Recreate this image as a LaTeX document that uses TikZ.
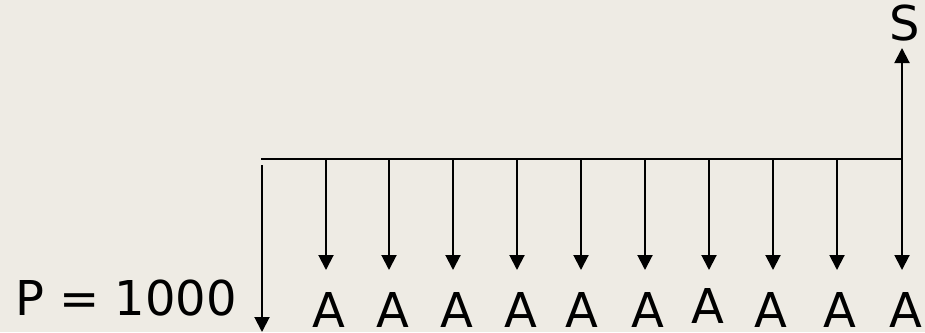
\documentclass[tikz,border=0pt]{standalone}
\usepackage{fontspec}
\setmainfont{DejaVu Sans}
\usetikzlibrary{arrows.meta}
\definecolor{bgc}{HTML}{EEEBE4}
\tikzset{
  flow/.style={line width=2pt,-{Triangle[width=15pt,length=15pt]}},
  base/.style={line width=2pt},
  lbl/.style={font=\fontsize{48}{48}\selectfont,inner sep=0pt,anchor=base}
}
\begin{document}
\begin{tikzpicture}[x=1pt,y=-1pt]
\fill[bgc] (0,0) rectangle (925,332);
\useasboundingbox (0,0) rectangle (925,332);
% time line
\coordinate (L) at (261,159);
\coordinate (R) at (902,159);
\draw[base] (L) -- (R);
% present value arrow
\coordinate (Ptop) at (262,165);
\coordinate (Pbot) at (262,332);
\draw[flow] (Ptop) -- (Pbot);
\node[lbl,anchor=base west] (P) at (15,315) {P = 1000};
% annuity arrows
\foreach \i/\x in {1/326,2/389,3/453,4/517,5/581,6/645,7/709,8/773,9/837,10/902}{
  \coordinate (t\i) at (\x,159);
  \coordinate (b\i) at (\x,270);
  \draw[flow] (t\i) -- (b\i);
}
\foreach \i/\x in {1/329,2/393,3/457,4/521,5/582,6/648,8/771,9/840,10/906}{
  \node[lbl] (A\i) at (\x,327) {A};
}
\node[lbl] (A7) at (708,323) {A};
% future value arrow
\coordinate (Stop) at (902,48);
\draw[flow] (R) -- (Stop);
\node[lbl] (S) at (905,40) {S};
\end{tikzpicture}
\end{document}
